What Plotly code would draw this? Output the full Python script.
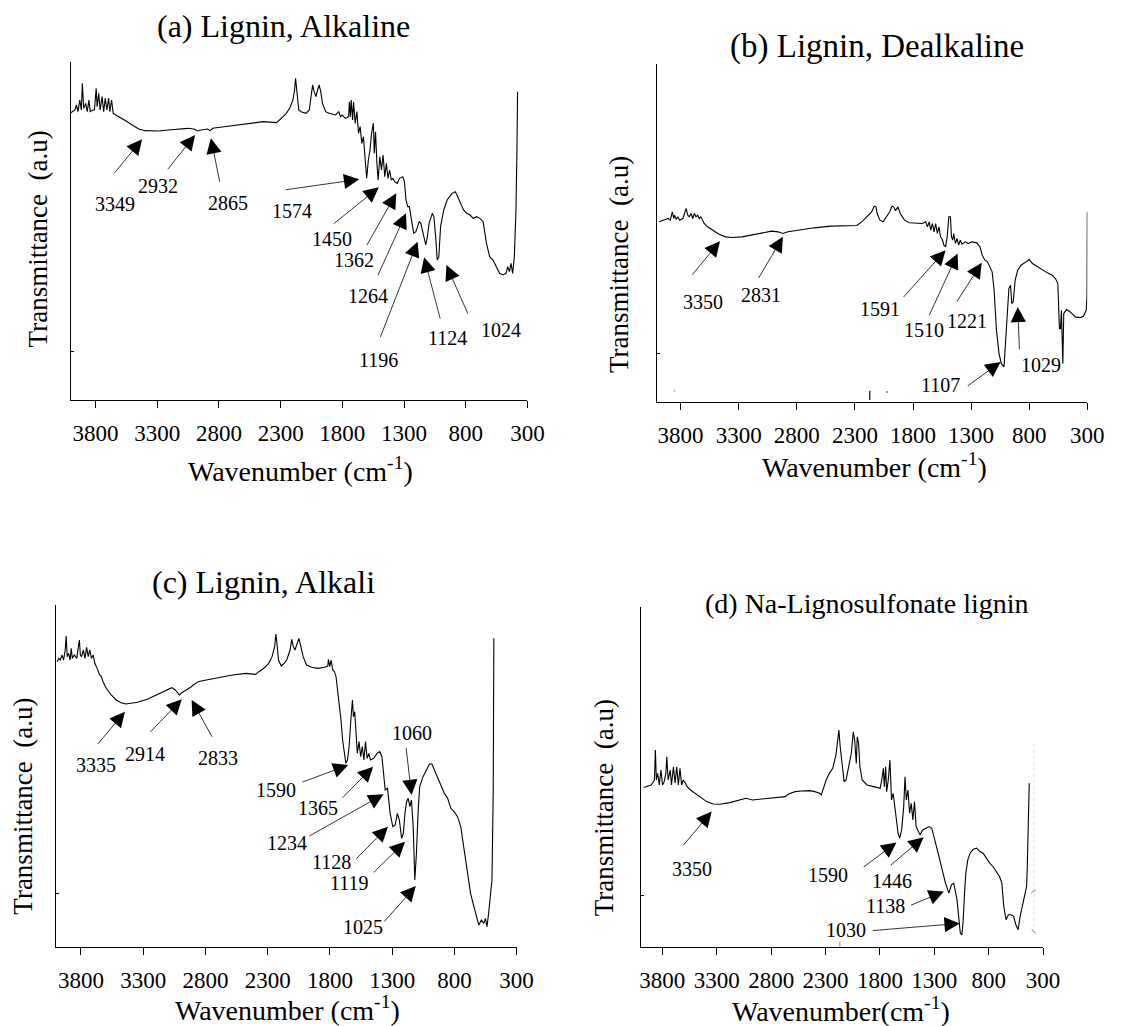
import plotly.graph_objects as go

# ---------------- data ----------------
# (a) Lignin, Alkaline
wn_a = [4000, 3968, 3955, 3942, 3928, 3915, 3907, 3896, 3880, 3867, 3854, 3843, 3822, 3809, 3795, 3787,
        3774, 3763, 3747, 3734, 3721, 3708, 3694, 3684, 3670, 3657, 3636, 3609, 3556, 3503, 3450, 3397,
        3343, 3290, 3211, 3131, 3051, 2998, 2971, 2945, 2892, 2870, 2852, 2759, 2652, 2546, 2440, 2333,
        2307, 2280, 2254, 2227, 2201, 2187, 2179, 2169, 2153, 2134, 2094, 2068, 2054, 2041, 2028, 2014,
        2001, 1988, 1975, 1961, 1935, 1908, 1855, 1829, 1815, 1802, 1775, 1749, 1743, 1735, 1728, 1717,
        1709, 1696, 1682, 1669, 1656, 1642, 1629, 1616, 1603, 1589, 1576, 1563, 1549, 1541, 1531, 1520,
        1510, 1496, 1483, 1470, 1456, 1443, 1430, 1417, 1403, 1390, 1377, 1355, 1337, 1310, 1297, 1284,
        1270, 1257, 1244, 1222, 1204, 1177, 1164, 1137, 1124, 1111, 1097, 1071, 1058, 1044, 1031, 1018,
        1004, 978, 951, 911, 885, 871, 845, 818, 792, 765, 739, 712, 686, 659, 632, 606, 579, 553, 526,
        499, 473, 460, 446, 433, 420, 406, 393, 385, 380]
t_a = [86.2, 87.0, 88.5, 86.5, 90.0, 87.0, 95.0, 87.5, 89.0, 86.5, 90.0, 86.5, 87.0, 87.0, 93.5, 88.0,
       92.0, 87.0, 91.0, 86.5, 90.5, 87.0, 90.5, 86.5, 90.0, 86.0, 85.5, 85.0, 83.8, 82.5, 81.3, 80.8,
       80.7, 80.7, 81.0, 81.3, 81.5, 81.2, 80.7, 81.0, 81.3, 80.8, 81.5, 82.0, 82.5, 83.2, 83.5, 83.2,
       84.0, 85.0, 86.0, 87.5, 90.0, 93.0, 96.5, 92.0, 87.0, 86.5, 86.0, 87.0, 92.0, 94.5, 92.5, 91.0,
       93.0, 94.5, 92.5, 89.0, 86.5, 86.0, 85.5, 86.5, 85.0, 85.5, 84.5, 85.0, 89.5, 85.0, 90.0, 84.0,
       89.5, 83.0, 86.5, 80.0, 82.0, 77.0, 79.0, 72.0, 66.5, 72.0, 75.0, 80.0, 83.0, 74.0, 80.5, 71.0,
       66.0, 73.0, 69.0, 73.5, 67.0, 71.0, 66.5, 69.0, 66.0, 66.5, 65.5, 65.0, 66.5, 67.0, 65.5, 60.0,
       58.0, 58.0, 55.0, 50.0, 50.5, 53.5, 53.0, 49.0, 46.5, 49.0, 53.0, 56.0, 55.0, 49.0, 42.0, 43.0,
       52.0, 57.0, 60.0, 62.0, 62.5, 61.5, 59.0, 57.0, 56.0, 55.5, 54.5, 55.0, 54.5, 53.5, 47.0, 43.0,
       42.0, 40.0, 38.0, 37.5, 38.0, 40.0, 38.5, 41.0, 38.0, 43.0, 57.0, 75.0, 92.5]

# (b) Lignin, Dealkaline
wn_b = [3984, 3964, 3936, 3907, 3888, 3871, 3859, 3851, 3837, 3823, 3808, 3780, 3766, 3752, 3738, 3724,
        3710, 3695, 3681, 3667, 3653, 3639, 3625, 3611, 3597, 3568, 3526, 3469, 3413, 3356, 3272, 3187,
        3102, 3017, 2961, 2919, 2876, 2791, 2650, 2509, 2368, 2283, 2241, 2198, 2156, 2133, 2119, 2108,
        2085, 2057, 2029, 2000, 1981, 1966, 1950, 1930, 1910, 1873, 1831, 1774, 1718, 1690, 1676, 1661,
        1647, 1633, 1619, 1605, 1591, 1577, 1563, 1548, 1534, 1520, 1506, 1492, 1478, 1469, 1458, 1450,
        1435, 1421, 1407, 1393, 1379, 1351, 1323, 1294, 1252, 1224, 1204, 1181, 1159, 1139, 1119, 1102,
        1082, 1060, 1040, 1017, 1006, 989, 975, 961, 950, 938, 921, 899, 871, 828, 800, 772, 729, 687,
        644, 602, 574, 554, 540, 531, 523, 511, 503, 480, 447, 404, 362, 334, 310, 303, 300]
t_b = [54.0, 54.3, 54.7, 55.0, 54.5, 57.0, 55.0, 56.0, 54.7, 55.5, 54.5, 55.0, 56.5, 58.0, 56.0, 55.5,
       56.5, 55.0, 56.5, 55.5, 56.0, 55.0, 55.5, 54.5, 53.5, 52.5, 51.5, 50.3, 49.5, 49.3, 49.5, 50.0,
       50.7, 51.2, 51.0, 50.5, 51.0, 51.5, 52.2, 52.7, 52.9, 52.9, 54.0, 55.5, 57.0, 58.7, 58.5, 56.5,
       54.5, 54.0, 55.5, 57.0, 58.7, 58.5, 57.3, 58.5, 56.5, 54.5, 53.7, 53.7, 53.5, 54.0, 52.5, 54.0,
       51.5, 53.5, 51.0, 53.5, 50.5, 52.5, 49.5, 48.7, 47.0, 46.5, 49.5, 55.5, 55.5, 49.5, 48.5, 50.5,
       47.5, 49.0, 47.0, 48.5, 47.3, 48.0, 47.5, 48.0, 47.7, 46.5, 44.0, 42.5, 42.0, 40.5, 39.0, 33.5,
       21.5, 14.5, 11.5, 10.5, 16.5, 26.5, 34.0, 35.0, 29.5, 30.0, 36.5, 39.5, 41.0, 42.0, 42.7, 41.5,
       40.5, 39.5, 38.7, 38.0, 37.0, 35.5, 22.0, 22.0, 27.5, 11.5, 26.5, 27.7, 27.0, 25.5, 25.3, 25.7,
       27.5, 32.0, 57.0]
# stray specks near the baseline of (b)
wn_b_specks = [3853, 3847, None, 2172, 2172, None, 2032, 2018]
t_b_specks = [3.3, 3.3, None, 3.4, 0.6, None, 3.0, 3.0]

# (c) Lignin, Alkali
wn_c = [3992, 3979, 3966, 3953, 3940, 3927, 3919, 3911, 3900, 3887, 3879, 3869, 3853, 3834, 3821, 3813,
        3805, 3795, 3781, 3768, 3755, 3742, 3729, 3716, 3702, 3689, 3676, 3663, 3650, 3636, 3623, 3597,
        3557, 3518, 3478, 3439, 3399, 3346, 3267, 3188, 3109, 3070, 3043, 3009, 2990, 2964, 2938, 2919,
        2898, 2859, 2793, 2687, 2582, 2476, 2397, 2371, 2331, 2292, 2265, 2244, 2234, 2223, 2213, 2191,
        2173, 2147, 2120, 2107, 2094, 2081, 2060, 2049, 2033, 2015, 1988, 1949, 1896, 1843, 1817, 1812,
        1801, 1791, 1777, 1764, 1751, 1738, 1725, 1711, 1698, 1685, 1672, 1659, 1646, 1632, 1619, 1611,
        1601, 1590, 1580, 1566, 1553, 1540, 1527, 1514, 1501, 1487, 1474, 1448, 1421, 1400, 1382, 1369,
        1356, 1337, 1316, 1295, 1276, 1258, 1242, 1224, 1210, 1197, 1184, 1171, 1158, 1145, 1131, 1118,
        1105, 1092, 1079, 1052, 1026, 1000, 981, 960, 934, 907, 881, 854, 828, 802, 775, 749, 723, 696,
        670, 643, 630, 604, 583, 564, 551, 538, 525, 512, 498, 488, 483]
t_c = [85.6, 86.6, 86.1, 87.6, 86.1, 89.1, 93.3, 87.1, 88.1, 86.1, 89.6, 86.6, 87.6, 86.6, 90.1, 92.1,
       87.6, 87.1, 89.1, 86.6, 89.9, 87.1, 89.1, 86.6, 87.6, 85.1, 84.1, 83.1, 81.6, 81.1, 79.6, 77.6,
       75.6, 74.1, 73.3, 72.9, 73.1, 73.4, 74.3, 75.8, 77.3, 77.8, 77.1, 75.6, 76.3, 76.9, 77.3, 77.9,
       78.6, 79.6, 80.1, 80.9, 81.6, 82.1, 81.8, 82.6, 83.6, 85.1, 87.1, 90.1, 93.9, 90.1, 86.1, 84.3,
       84.9, 86.1, 89.1, 92.3, 90.1, 89.1, 91.1, 92.6, 90.1, 87.1, 84.6, 83.9, 83.6, 83.9, 84.3, 86.3,
       84.1, 86.1, 83.1, 82.6, 81.1, 77.1, 72.1, 68.1, 62.1, 58.1, 55.1, 56.1, 60.1, 68.1, 74.1, 69.1,
       70.6, 64.1, 58.1, 61.6, 57.1, 60.1, 56.1, 61.6, 56.6, 58.1, 56.1, 56.6, 58.1, 58.6, 57.1, 52.1,
       47.1, 47.6, 40.1, 36.1, 36.6, 40.1, 38.1, 32.6, 34.1, 40.1, 43.6, 44.6, 42.1, 44.1, 36.1, 20.1,
       28.1, 40.1, 48.1, 51.1, 53.1, 54.9, 54.9, 53.1, 50.6, 48.6, 46.1, 44.6, 41.6, 40.6, 39.1, 36.1,
       29.1, 22.1, 16.1, 12.1, 10.1, 6.6, 8.1, 7.1, 8.6, 6.1, 10.1, 14.1, 20.1, 46.1, 92.6]

# (d) Na-Lignosulfonate lignin
wn_d = [3972, 3963, 3933, 3903, 3873, 3864, 3855, 3843, 3828, 3813, 3798, 3783, 3768, 3759, 3747, 3728,
        3716, 3698, 3683, 3668, 3653, 3638, 3623, 3608, 3587, 3572, 3542, 3497, 3452, 3392, 3332, 3271,
        3181, 3091, 3031, 2971, 2911, 2850, 2760, 2670, 2640, 2580, 2520, 2444, 2399, 2354, 2339, 2324,
        2294, 2264, 2234, 2204, 2189, 2177, 2165, 2147, 2129, 2111, 2084, 2063, 2045, 2032, 2017, 2008,
        1996, 1984, 1963, 1918, 1858, 1798, 1783, 1768, 1759, 1747, 1738, 1723, 1708, 1693, 1678, 1654,
        1633, 1618, 1600, 1581, 1569, 1557, 1542, 1527, 1512, 1497, 1482, 1467, 1452, 1431, 1407, 1377,
        1347, 1323, 1302, 1281, 1257, 1227, 1197, 1166, 1142, 1121, 1100, 1091, 1076, 1061, 1046, 1034,
        1022, 1010, 992, 971, 941, 911, 881, 851, 821, 791, 761, 731, 700, 679, 661, 640, 619, 595, 571,
        550, 529, 511, 490, 475, 460, 451, 445, 436, 427]
t_d = [48.0, 48.0, 48.4, 48.7, 50.2, 59.2, 50.2, 52.2, 48.7, 53.2, 48.7, 49.7, 52.2, 57.2, 50.2, 53.2,
       48.7, 54.2, 49.2, 54.2, 48.7, 53.7, 48.7, 50.2, 49.2, 48.2, 47.2, 46.2, 45.0, 43.7, 43.0, 42.9,
       43.4, 44.2, 44.7, 44.2, 44.4, 44.7, 44.8, 45.2, 46.0, 46.7, 46.9, 47.0, 46.7, 46.2, 45.7, 47.2,
       50.2, 52.2, 53.7, 57.7, 61.2, 65.2, 60.2, 54.2, 49.7, 50.2, 54.2, 58.2, 64.7, 62.2, 55.2, 63.2,
       61.2, 54.2, 50.2, 48.7, 48.2, 47.7, 50.2, 53.7, 48.2, 54.2, 46.7, 50.2, 56.2, 44.2, 46.2, 40.2,
       34.2, 32.7, 35.2, 42.2, 51.2, 44.2, 47.2, 40.2, 43.2, 38.2, 43.7, 36.2, 35.2, 33.7, 35.2, 35.7,
       36.2, 35.7, 33.2, 30.2, 27.2, 23.2, 19.2, 16.2, 18.7, 19.2, 16.2, 14.2, 9.2, 4.2, 3.6, 8.2,
       16.2, 22.2, 26.2, 28.2, 29.4, 29.7, 28.7, 28.2, 26.7, 25.2, 24.2, 22.7, 21.2, 19.2, 12.2, 8.2,
       9.7, 9.7, 9.2, 6.7, 5.2, 9.2, 12.2, 14.2, 16.2, 18.2, 24.2, 38.2, 49.2]
# stray marks of (d): faint dotted trace, two slashes, a speck on the baseline
wn_d_dotted = [384, 384]
t_d_dotted = [61, 5]
wn_d_marks = [411, 366, None, 405, 366, None, 2168, 2168]
t_d_marks = [16.2, 17.2, None, 5.4, 4.0, None, 0.0, 1.6]

# peak labels of each panel
peaks_a = ["3349", "2932", "2865", "1574", "1450", "1362", "1264", "1196", "1124", "1024"]
peaks_b = ["3350", "2831", "1591", "1510", "1221", "1107", "1029"]
peaks_c = ["3335", "2914", "2833", "1590", "1365", "1234", "1128", "1119", "1060", "1025"]
peaks_d = ["3350", "1590", "1446", "1138", "1030"]

titles = ["(a) Lignin, Alkaline", "(b) Lignin, Dealkaline", "(c) Lignin, Alkali",
          "(d) Na-Lignosulfonate lignin"]
x_titles = ["Wavenumber (cm<sup>-1</sup>)", "Wavenumber (cm<sup>-1</sup>)",
            "Wavenumber (cm<sup>-1</sup>)", "Wavenumber(cm<sup>-1</sup>)"]
y_title = "Transmittance  (a.u)"
x_ticks = [3800, 3300, 2800, 2300, 1800, 1300, 800, 300]

# ---------------- layout / placement (pixels of the 1125x1026 page) ----------------
W, H = 1125, 1026
FONT = "Liberation Serif"

# plot boxes: left, right, top, bottom (pixels) and y range top
boxes = {
    "a": dict(l=71, r=535, t=62, b=400, ytop=101.4, ytick=14.5),
    "b": dict(l=667, r=1104, t=64, b=402, ytop=101.3, ytick=14.5),
    "c": dict(l=56, r=524, t=605, b=947, ytop=102.6, ytick=16.0),
    "d": dict(l=650, r=1059, t=607, b=947, ytop=102.2, ytick=15.5),
}
# arrow head (w, T), arrow tail (w, T), label centre (w, T)
arrows_a = [(3423, 78.2, 3654, 67.8, 3641, 58.8), (2993, 79.5, 3224, 68.8, 3290, 64.2),
            (2865, 78.5, 2791, 65.0, 2724, 59.0), (1664, 66.2, 2272, 63.0, 2206, 56.8),
            (1504, 63.8, 1882, 52.5, 1887, 48.2), (1363, 62.0, 1608, 46.0, 1709, 42.0),
            (1284, 56.0, 1517, 37.0, 1589, 31.2), (1190, 47.5, 1496, 18.5, 1504, 12.0),
            (1137, 42.8, 1004, 24.0, 948, 18.5), (957, 40.5, 778, 25.5, 513, 21.0)]
arrows_b = [(3461, 48.2, 3710, 37.7, 3611, 30.0), (2919, 49.5, 3136, 36.7, 3111, 32.0),
            (1520, 45.5, 1893, 31.0, 2085, 28.0), (1416, 44.5, 1667, 25.5, 1704, 21.5),
            (1209, 41.7, 1430, 29.7, 1336, 24.3), (1046, 12.0, 1342, 4.5, 1560, 5.0),
            (899, 28.5, 884, 15.3, 701, 11.0)]
arrows_c = [(3447, 70.6, 3676, 60.4, 3676, 54.6), (2990, 74.3, 3254, 64.1, 3286, 57.9),
            (2911, 74.1, 2740, 62.6, 2700, 56.6), (1653, 54.6, 2033, 49.3, 2231, 47.1),
            (1453, 54.1, 1711, 44.3, 1896, 41.6), (1369, 45.8, 1975, 33.1, 2147, 31.3),
            (1334, 36.1, 1598, 26.1, 1790, 25.6), (1197, 31.6, 1461, 21.9, 1646, 19.3),
            (1144, 45.6, 1189, 60.1, 1144, 64.1), (1110, 18.3, 1373, 7.2, 1535, 6.1)]
arrows_d = [(3347, 40.7, 3617, 30.2, 3527, 23.4), (1648, 31.4, 1963, 23.7, 2279, 21.7),
            (1398, 33.0, 1714, 24.2, 1693, 19.7), (1212, 16.7, 1527, 12.4, 1744, 12.4),
            (1067, 7.1, 1879, 4.9, 2108, 5.1)]
# text positions (pixel centres): panel title, x title, y title
title_pos = {"a": (287, 26), "b": (890, 47), "c": (267, 582), "d": (880, 603)}
title_size = {"a": 32, "b": 33, "c": 32, "d": 28}
xtitle_pos = {"a": (304, 469), "b": (888, 465), "c": (291, 1008), "d": (854, 1009)}
ytitle_pos = {"a": (38, 239), "b": (628, 264), "c": (22, 806), "d": (613, 808)}


def px(x):
    return x / W


def py(y):
    return 1 - y / H


fig = go.Figure()
panels = [
    ("a", "", wn_a, t_a, peaks_a, arrows_a),
    ("b", "2", wn_b, t_b, peaks_b, arrows_b),
    ("c", "3", wn_c, t_c, peaks_c, arrows_c),
    ("d", "4", wn_d, t_d, peaks_d, arrows_d),
]
annotations = []
for i, (key, sfx, wn, tt, peaks, arrows) in enumerate(panels):
    bx = boxes[key]
    xa, ya = "x" + sfx, "y" + sfx
    fig.add_trace(go.Scatter(x=wn, y=tt, mode="lines", xaxis=xa, yaxis=ya,
                             line=dict(color="black", width=1.1), showlegend=False,
                             hoverinfo="skip"))
    layout_x = dict(domain=[px(bx["l"]), px(bx["r"])], range=[4000, 300], anchor=ya,
                    showline=True, linecolor="black", linewidth=1.3, mirror=False,
                    ticks="outside", ticklen=7, tickwidth=1.3, tickcolor="black",
                    tickvals=x_ticks, ticktext=[str(v) for v in x_ticks],
                    tickfont=dict(family=FONT, size=23, color="black"),
                    ticklabelstandoff=5,
                    showgrid=False, zeroline=False, fixedrange=True)
    layout_y = dict(domain=[py(bx["b"]), py(bx["t"])], range=[0, bx["ytop"]], anchor=xa,
                    showline=True, linecolor="black", linewidth=1.3,
                    ticks="inside", ticklen=3, tickwidth=1, tickcolor="black",
                    tickvals=[bx["ytick"]], ticktext=[""], showticklabels=False,
                    showgrid=False, zeroline=False, fixedrange=True)
    fig.update_layout(**{"xaxis" + sfx: layout_x, "yaxis" + sfx: layout_y})

    for lab, (hw, ht, tw, tT, lw, lT) in zip(peaks, arrows):
        annotations.append(dict(x=hw, y=ht, xref=xa, yref=ya, ax=tw, ay=tT, axref=xa, ayref=ya,
                                text="", showarrow=True, arrowhead=2, arrowsize=3.8,
                                arrowwidth=0.8, arrowcolor="black", standoff=0, startstandoff=0))
        annotations.append(dict(x=lw, y=lT, xref=xa, yref=ya, text=lab, showarrow=False,
                                xanchor="center", yanchor="middle",
                                font=dict(family=FONT, size=20, color="black")))

    tx, ty = title_pos[key]
    annotations.append(dict(x=px(tx), y=py(ty), xref="paper", yref="paper", text=titles[i],
                            xanchor="center", yanchor="middle", showarrow=False,
                            font=dict(family=FONT, size=title_size[key], color="black")))
    xx, xy = xtitle_pos[key]
    annotations.append(dict(x=px(xx), y=py(xy), xref="paper", yref="paper", text=x_titles[i],
                            xanchor="center", yanchor="middle", showarrow=False,
                            font=dict(family=FONT, size=28, color="black")))
    yx, yy = ytitle_pos[key]
    annotations.append(dict(x=px(yx), y=py(yy), xref="paper", yref="paper", text=y_title,
                            xanchor="center", yanchor="middle", textangle=-90, showarrow=False,
                            font=dict(family=FONT, size=27, color="black")))

# stray marks
fig.add_trace(go.Scatter(x=wn_b_specks, y=t_b_specks, mode="lines", xaxis="x2", yaxis="y2",
                         line=dict(color="black", width=1.2), showlegend=False, hoverinfo="skip"))
fig.add_trace(go.Scatter(x=wn_d_dotted, y=t_d_dotted, mode="lines", xaxis="x4", yaxis="y4",
                         line=dict(color="#dddddd", width=1, dash="dot"), showlegend=False,
                         hoverinfo="skip"))
fig.add_trace(go.Scatter(x=wn_d_marks, y=t_d_marks, mode="lines", xaxis="x4", yaxis="y4",
                         line=dict(color="#888888", width=1), showlegend=False, hoverinfo="skip"))

fig.update_layout(width=W, height=H, margin=dict(l=0, r=0, t=0, b=0),
                  paper_bgcolor="white", plot_bgcolor="white", annotations=annotations,
                  font=dict(family=FONT, color="black"))
fig.write_html("out.html", include_plotlyjs=True, config={"displayModeBar": False})
